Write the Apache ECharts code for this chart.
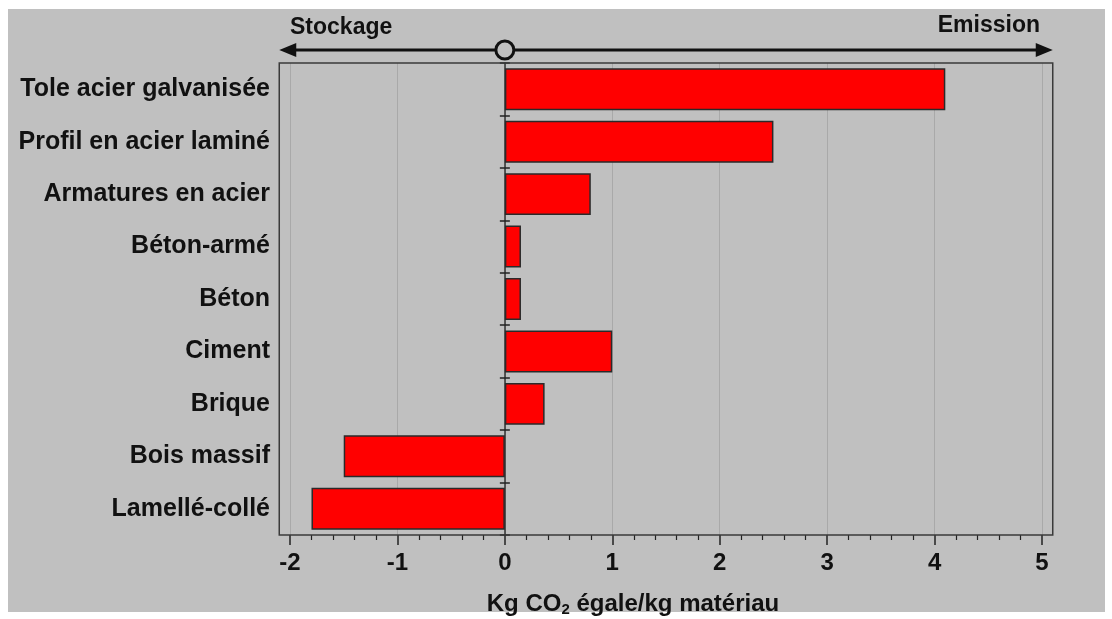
<!DOCTYPE html>
<html>
<head>
<meta charset="utf-8">
<script src="https://cdn.jsdelivr.net/npm/echarts@6/dist/echarts.min.js"></script>
<style>
  html, body { margin: 0; padding: 0; background: #ffffff; }
  #chart { width: 1112px; height: 619px; }
</style>
</head>
<body>
<div id="chart"></div>
<script>
// Materials, top to bottom
const categories = [
  'Tole acier galvanisée',
  'Profil en acier laminé',
  'Armatures en acier',
  'Béton-armé',
  'Béton',
  'Ciment',
  'Brique',
  'Bois massif',
  'Lamellé-collé'
];
// Kg CO2 per kg of material (negative = storage)
const values = [4.1, 2.5, 0.8, 0.15, 0.15, 1.0, 0.37, -1.5, -1.8];

// Value axis range and tick step
const xMin = -2;
const xMax = 5;
const xStep = 1;
// Frame padding beyond the outer ticks, in axis units
const framePad = 0.1;

const leftLabel = 'Stockage';
const rightLabel = 'Emission';
const axisTitle = ['Kg CO', '2', ' égale/kg matériau'];

const FONT = '"Liberation Sans", Arial, Helvetica, sans-serif';
const BG = '#c0c0c0';
const INK = '#111111';
const GRID = { left: 290, right: 70, top: 63, bottom: 84 };

const chart = echarts.init(document.getElementById('chart'), null, { renderer: 'canvas' });

const catAxisBase = {
  type: 'category',
  data: categories,
  inverse: true,
  position: 'left',
  splitLine: { show: false }
};

chart.setOption({
  backgroundColor: '#ffffff',
  animation: false,
  grid: { left: GRID.left, right: GRID.right, top: GRID.top, bottom: GRID.bottom, containLabel: false },
  xAxis: [{
    type: 'value',
    min: xMin,
    max: xMax,
    interval: xStep,
    axisLine: { show: false, onZero: false },
    axisTick: { show: true, length: 10, inside: false, lineStyle: { color: '#222', width: 1.5 } },
    minorTick: { show: true, splitNumber: 5, length: 5, lineStyle: { color: '#222', width: 1.2 } },
    splitLine: { show: true, lineStyle: { color: '#a9a9a9', width: 1 } },
    axisLabel: {
      show: true, margin: 16, color: INK, fontFamily: FONT, fontWeight: 'bold', fontSize: 24
    }
  }],
  yAxis: [
    // category labels at the left of the frame
    Object.assign({}, catAxisBase, {
      axisLine: { show: false, onZero: false },
      axisTick: { show: false },
      axisLabel: {
        show: true, margin: 20, color: INK, fontFamily: FONT, fontWeight: 'bold', fontSize: 25
      }
    }),
    // zero line with ticks pointing left
    Object.assign({}, catAxisBase, {
      axisLine: { show: true, onZero: true, onZeroAxisIndex: 0, lineStyle: { color: '#333', width: 1.5 } },
      axisTick: { show: true, inside: false, length: 5, lineStyle: { color: '#222', width: 1.5 } },
      axisLabel: { show: false }
    }),
    // zero line ticks pointing right
    Object.assign({}, catAxisBase, {
      axisLine: { show: false, onZero: true, onZeroAxisIndex: 0 },
      axisTick: { show: true, inside: true, length: 5, lineStyle: { color: '#222', width: 1.5 } },
      axisLabel: { show: false }
    })
  ],
  series: [{
    type: 'bar',
    xAxisIndex: 0,
    yAxisIndex: 0,
    data: values,
    barWidth: '80%',
    itemStyle: { color: '#ff0000', borderColor: '#2a2a2a', borderWidth: 1.5 },
    z: 3
  }]
});

// Decorations placed from the value scale
const px = v => chart.convertToPixel({ xAxisIndex: 0 }, v);
const W = chart.getWidth();
const H = chart.getHeight();
const frameL = px(xMin - framePad);
const frameR = px(xMax + framePad);
const frameT = GRID.top;
const frameB = H - GRID.bottom;
const zeroX = px(0);
const arrowY = 50;
const headLen = 17;
const headHalf = 7;

chart.setOption({
  graphic: [
    {
      type: 'rect', z: -10, silent: true,
      shape: { x: 8, y: 9, width: W - 15, height: H - 16 },
      style: { fill: BG }
    },
    {
      type: 'rect', z: 100, silent: true,
      shape: { x: frameL, y: frameT, width: frameR - frameL, height: frameB - frameT },
      style: { fill: null, stroke: '#3a3a3a', lineWidth: 1.5 }
    },
    {
      type: 'line', z: 100, silent: true,
      shape: { x1: frameL + headLen - 2, y1: arrowY, x2: frameR - headLen + 2, y2: arrowY },
      style: { stroke: INK, lineWidth: 3 }
    },
    {
      type: 'polygon', z: 100, silent: true,
      shape: { points: [[frameL, arrowY], [frameL + headLen, arrowY - headHalf], [frameL + headLen, arrowY + headHalf]] },
      style: { fill: INK }
    },
    {
      type: 'polygon', z: 100, silent: true,
      shape: { points: [[frameR, arrowY], [frameR - headLen, arrowY - headHalf], [frameR - headLen, arrowY + headHalf]] },
      style: { fill: INK }
    },
    {
      type: 'circle', z: 101, silent: true,
      shape: { cx: zeroX, cy: arrowY, r: 9 },
      style: { fill: BG, stroke: INK, lineWidth: 3 }
    },
    {
      type: 'text', z: 100, silent: true,
      x: px(xMin), y: 28,
      style: {
        text: leftLabel, fill: INK, font: 'bold 23px ' + FONT,
        align: 'left', verticalAlign: 'middle'
      }
    },
    {
      type: 'text', z: 100, silent: true,
      x: px(xMax) - 2, y: 26,
      style: {
        text: rightLabel, fill: INK, font: 'bold 23px ' + FONT,
        align: 'right', verticalAlign: 'middle'
      }
    },
    {
      type: 'text', z: 100, silent: true,
      x: 633, y: 604,
      style: {
        text: '{m|' + axisTitle[0] + '}{s|' + axisTitle[1] + '}{m|' + axisTitle[2] + '}',
        align: 'center', verticalAlign: 'middle',
        rich: {
          m: { fill: INK, fontFamily: FONT, fontWeight: 'bold', fontSize: 24, height: 26 },
          s: { fill: INK, fontFamily: FONT, fontWeight: 'bold', fontSize: 15, height: 26, padding: [12, 0, 0, 0] }
        }
      }
    }
  ]
});
</script>
</body>
</html>
